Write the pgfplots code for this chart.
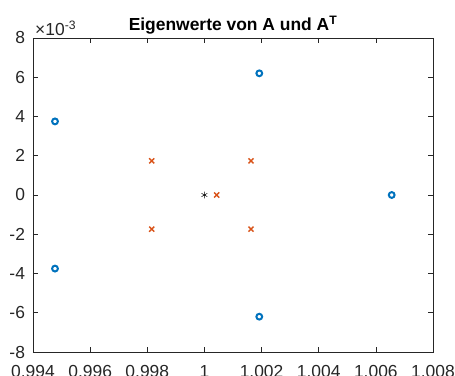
\documentclass[border=0pt]{standalone}
\usepackage{fontspec}
\setmainfont{Liberation Sans}
\usepackage{pgfplots}
\pgfplotsset{compat=1.18}
\definecolor{mblue}{RGB}{0,114,189}
\definecolor{morange}{RGB}{217,83,25}
\definecolor{maxis}{RGB}{38,38,38}
\begin{document}
\fontsize{17.5}{20}\selectfont
\begin{tikzpicture}
\begin{axis}[
  scale only axis,
  width=400bp, height=314bp,
  xmin=0.994, xmax=1.008,
  ymin=-0.008, ymax=0.008,
  xtick={0.994,0.996,0.998,1,1.002,1.004,1.006,1.008},
  xticklabels={0.994,0.996,0.998,1,1.002,1.004,1.006,1.008},
  ytick={-0.008,-0.006,-0.004,-0.002,0,0.002,0.004,0.006,0.008},
  yticklabels={-8,-6,-4,-2,0,2,4,6,8},
  scaled x ticks=false, scaled y ticks=false,
  tick align=inside,
  major tick length=5bp,
  axis line style={maxis, line width=0.6bp},
  tick style={maxis, line width=0.6bp},
  tick label style={font=\fontsize{17.5}{20}\selectfont, text=black!85},
  xticklabel style={yshift=-7bp},
  yticklabel style={xshift=-2bp},
  title={\bfseries Eigenwerte von A und A\textsuperscript{T}},
  title style={font=\fontsize{17.5}{20}\selectfont, yshift=-8bp},
  clip=false,
]
\addplot[only marks, mark=o, mark size=2.9bp, mblue, line width=2bp] coordinates {
  (0.99477,0.00375) (0.99477,-0.00375)
  (1.00192,0.0062) (1.00192,-0.0062)
  (1.006555,0)
};
\addplot[only marks, mark=x, mark size=3.6bp, morange, line width=1.4bp] coordinates {
  (0.998155,0.00174) (0.998155,-0.00174)
  (1.00163,0.00174) (1.00163,-0.00174)
  (1.00043,0)
};
\addplot[only marks, mark=asterisk, mark size=3.3bp, black, line width=0.5bp] coordinates {
  (1,0)
};
\node[anchor=south west, inner sep=0pt, text=black!85, font=\fontsize{17.5}{20}\selectfont] at (rel axis cs:0,1) [xshift=2bp, yshift=2bp] {×10\textsuperscript{-3}};
\end{axis}
\pgfresetboundingbox
\path[use as bounding box] (-33bp,-24bp) rectangle (422bp,352bp);
\end{tikzpicture}
\end{document}
